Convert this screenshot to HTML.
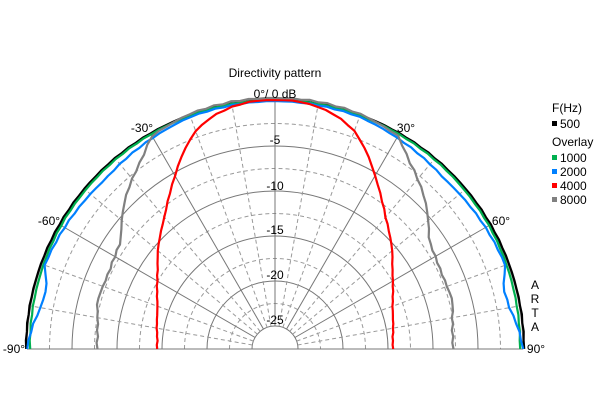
<!DOCTYPE html>
<html><head><style>
body{margin:0;background:#fff}
svg text{font-family:"Liberation Sans",sans-serif;font-size:12px;fill:#000}
</style></head><body>
<svg id="s" width="600" height="400" xmlns="http://www.w3.org/2000/svg">
<rect width="600" height="400" fill="#fff"/>
<g id="grid"></g>
<g id="curves" fill="none" stroke-width="2.2" stroke-linejoin="round"></g>
<text x="275" y="77" text-anchor="middle">Directivity pattern</text>
<text x="275" y="98" text-anchor="middle">0°/ 0 dB</text>
<text x="275" y="144" text-anchor="middle">-5</text>
<text x="275" y="190" text-anchor="middle">-10</text>
<text x="275" y="234" text-anchor="middle">-15</text>
<text x="275" y="279" text-anchor="middle">-20</text>
<text x="275" y="324" text-anchor="middle">-25</text>
<text x="142" y="132" text-anchor="middle">-30°</text>
<text x="406" y="132" text-anchor="middle">30°</text>
<text x="49" y="225" text-anchor="middle">-60°</text>
<text x="501" y="225" text-anchor="middle">60°</text>
<text x="14" y="353" text-anchor="middle">-90°</text>
<text x="536" y="353" text-anchor="middle">90°</text>
<text x="535" y="289" text-anchor="middle">A</text>
<text x="535" y="303" text-anchor="middle">R</text>
<text x="535" y="317" text-anchor="middle">T</text>
<text x="535" y="331" text-anchor="middle">A</text>
<text x="552" y="112">F(Hz)</text>
<rect x="552" y="121" width="5" height="5" fill="#000"/><text x="560" y="128">500</text>
<text x="552" y="146">Overlay</text>
<rect x="552" y="155" width="5" height="5" fill="#00b050"/><text x="560" y="162">1000</text>
<rect x="552" y="169" width="5" height="5" fill="#0080ff"/><text x="560" y="176">2000</text>
<rect x="552" y="183" width="5" height="5" fill="#ff0000"/><text x="560" y="190">4000</text>
<rect x="552" y="197" width="5" height="5" fill="#808080"/><text x="560" y="204">8000</text>
</svg>
<script>
var cx=275,cy=349,NS="http://www.w3.org/2000/svg";
function el(p,t,a){var e=document.createElementNS(NS,t);for(var k in a)e.setAttribute(k,a[k]);p.appendChild(e);return e;}
var g=document.getElementById('grid');
function arc(r,dash){el(g,'path',{d:'M'+(cx-r)+' '+cy+' A'+r+' '+r+' 0 0 1 '+(cx+r)+' '+cy,fill:'none',stroke:dash?'#999':'#777','stroke-width':1,'stroke-dasharray':dash?'4,3':'none'});}
[248,203,158,113,68,23].forEach(function(r){arc(r,false)});
[225.5,180.5,135.5,90.5,45.5].forEach(function(r){arc(r,true)});
for(var a=-90;a<=90;a+=10){var t=a*Math.PI/180,solid=(a%30==0);
 el(g,'line',{x1:cx+23*Math.sin(t),y1:cy-23*Math.cos(t),x2:cx+248*Math.sin(t),y2:cy-248*Math.cos(t),stroke:solid?'#777':'#999','stroke-width':1,'stroke-dasharray':solid?'none':'4,3'});}
el(g,'line',{x1:27,y1:cy,x2:523,y2:cy,stroke:'#777','stroke-width':1});
function interp(tab,a){a=Math.abs(a);var ks=Object.keys(tab).map(Number).sort(function(x,y){return x-y});
 for(var i=0;i<ks.length-1;i++){if(a>=ks[i]&&a<=ks[i+1]){var f=(a-ks[i])/(ks[i+1]-ks[i]);return tab[ks[i]]*(1-f)+tab[ks[i+1]]*f;}}return tab[ks[ks.length-1]];}
var C=document.getElementById('curves');
function curve(tab,col,jit){var pts=[];for(var a=-90;a<=90;a+=2){var r=Math.min(interp(tab,a)+(jit?Math.sin(a*1.7)*jit:0),252);var t=a*Math.PI/180;pts.push((cx+r*Math.sin(t)).toFixed(1)+','+(cy-r*Math.cos(t)).toFixed(1));}
 el(C,'polyline',{points:pts.join(' '),stroke:col});}
curve({0:249,30:249,60:249,90:249},'#000',0.3);
curve({0:249,30:248,60:247,90:245},'#00b050',0.3);
curve({0:248,20:247,30:244,45:240,60:243,70:245,75:236,80:238,85:244,90:248},'#0080ff',0.4);
curve({0:249,5:249,10:246,15:241,20:232,25:217,30:200,35:185,40:172,45:162,50:153,55:143,60:136,65:130,70:125,75:122,80:120,85:118,90:118},'#ff0000',0.3);
curve({0:251,10:251,20:250,30:246,35:232,40:222,45:212,50:200,55:188,60:185,65:183,70:183,75:184,80:180,85:178,90:178},'#808080',0.6);
</script>
</body></html>
